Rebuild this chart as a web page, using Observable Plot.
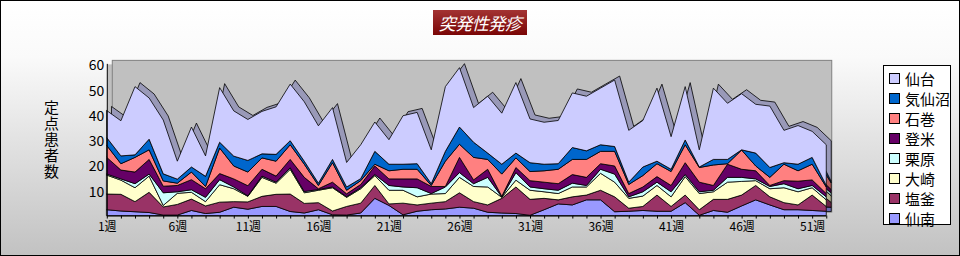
<!DOCTYPE html>
<html><head><meta charset="utf-8">
<script src="https://cdn.jsdelivr.net/npm/d3@7"></script>
<script src="https://cdn.jsdelivr.net/npm/@observablehq/plot@0.6"></script>
<style>
body{margin:0;}
#wrap{position:relative;width:960px;height:256px;box-sizing:border-box;border:1px solid #000;
  background:linear-gradient(#ffffff 0%,#fafafa 22%,#c2c2c2 100%);overflow:hidden;
  font-family:"Noto Sans CJK JP","Noto Sans",sans-serif;}
#chart{position:absolute;left:-1px;top:-1px;}
#chart svg{background:transparent;}
#title{position:absolute;left:432px;top:9px;width:94px;height:25px;
  background:linear-gradient(#a33333,#7a0606);color:#fff;font-size:17px;font-style:italic;
  line-height:25px;text-align:center;letter-spacing:-0.5px;}
#ylab{position:absolute;left:40px;top:99px;writing-mode:vertical-rl;text-orientation:upright;
  font-family:"Noto Sans CJK JP";font-size:15px;line-height:20px;letter-spacing:1px;color:#000;}
#legend{position:absolute;left:882px;top:64px;width:68px;height:160px;box-sizing:border-box;
  border:1px solid #000;background:#fff;padding-top:2px;}
.li{height:20px;display:flex;align-items:center;font-size:15px;color:#000;}
.sw{width:9px;height:9px;border:1px solid #000;margin-left:5px;margin-right:5px;}
</style></head>
<body><div id="wrap">
<div id="chart"></div>
<div id="title">突発性発疹</div>
<div id="ylab"></div>
<div id="legend"></div>
</div>
<script>
const yLabel = "定点患者数";
const weeks = [1,2,3,4,5,6,7,8,9,10,11,12,13,14,15,16,17,18,19,20,21,22,23,24,25,26,27,28,29,30,31,32,33,34,35,36,37,38,39,40,41,42,43,44,45,46,47,48,49,50,51,52];
const xTicks = [1,6,11,16,21,26,31,36,41,46,51];
const yTicks = [10,20,30,40,50,60];
// stack order bottom -> top
const regions = ["仙南","塩釜","大崎","栗原","登米","石巻","気仙沼","仙台"];
const legendOrder = ["仙台","気仙沼","石巻","登米","栗原","大崎","塩釜","仙南"];
const colors = {"仙台":"#ccccff","気仙沼":"#0066cc","石巻":"#ff8080","登米":"#660066","栗原":"#ccffff","大崎":"#ffffcc","塩釜":"#993366","仙南":"#9999ff"};
const shades = {"仙台":"#9999b8","気仙沼":"#00478f","石巻":"#b35a5a","登米":"#470047","栗原":"#8fb3b3","大崎":"#b3b38f","塩釜":"#6b2447","仙南":"#6b6bb3"};

const senan     = [2.3,1.8,1.5,1.2,0.2,0.2,2.0,0.8,1.3,3.3, 2.5,3.6,3.6,1.6,1.0,2.3,0.3,0.2,1.0,6.8, 4.0,0.3,1.7,2.3,2.6,3.3,2.9,1.3,1.0,0.8, 0.1,2.3,4.6,4.2,6.2,6.2,1.5,1.7,2.0,1.7, 1.7,5.1,0.1,2.0,1.3,3.8,6.2,4.2,2.3,2.3, 2.0,1.7];
const shiogama  = [6.2,6.6,4.0,8.0,3.2,4.2,4.5,3.0,4.0,2.2, 2.9,4.0,4.8,6.9,3.8,2.8,1.5,3.4,3.9,5.1, 0.6,4.6,2.5,2.6,2.9,5.7,2.6,2.9,5.8,10.5, 6.3,4.5,1.6,3.2,1.9,3.8,5.9,1.2,1.6,6.4, 1.9,3.0,2.2,4.4,5.1,4.3,5.7,3.2,2.8,1.9, 6.1,1.9];
const osaki     = [7.5,5.6,5.5,6.4,0.6,4.4,2.7,1.7,6.9,5.1, 2.2,7.5,4.4,9.8,4.2,4.9,9.2,3.6,5.7,3.9, 5.4,5.1,3.2,3.6,3.2,6.1,6.0,7.1,0.4,2.7, 3.6,2.6,2.5,3.9,3.2,6.7,5.8,3.9,4.1,3.8, 3.8,7.3,6.4,3.0,6.8,5.4,1.9,3.2,5.9,5.2, 2.9,2.6];
const kurihara  = [0.4,0.5,1.6,0.8,5.0,0.6,1.0,1.7,2.0,0.7, 0.2,0.5,0.4,0.6,0.5,0.3,0.3,0.3,0.4,0.4, 1.9,1.3,3.6,0.2,2.6,1.9,1.1,3.8,0.2,3.0, 1.3,1.2,1.3,1.5,0.6,1.6,3.2,0.6,1.7,1.3, 2.0,0.8,0.7,0.6,1.9,1.6,0.7,0.9,1.6,1.2, 0.9,1.2];
const tome      = [6.6,3.5,4.6,5.8,2.6,2.5,4.0,3.4,2.4,3.2, 4.0,2.7,2.4,3.3,5.6,0.3,1.9,1.1,1.3,3.4, 2.6,3.2,3.5,2.8,0.2,6.0,1.5,3.2,0.2,2.0, 2.5,2.6,2.6,3.4,3.2,2.2,3.2,1.3,1.9,2.2, 2.5,4.7,3.8,1.9,5.2,3.2,3.2,0.4,1.2,3.0, 2.2,1.3];
const ishinomaki= [4.7,2.5,5.8,3.8,2.1,0.9,3.0,0.9,10.1,5.1, 5.4,4.5,5.9,5.8,5.2,1.3,7.7,1.4,1.5,0.7, 3.2,3.8,3.8,0.4,10.0,5.2,8.9,3.9,8.8,3.8, 3.6,4.5,5.7,6.0,7.1,4.9,5.8,3.6,4.5,5.1, 5.5,7.1,5.8,8.1,0.2,7.6,1.9,3.2,6.5,4.1, 6.2,2.6];
const kesennuma = [3.1,3.1,1.0,4.2,2.8,1.6,2.0,4.0,2.3,3.9, 4.6,1.6,2.7,1.6,1.2,0.9,1.3,1.3,0.8,5.1, 2.6,2.0,2.2,0.7,3.9,6.8,6.0,2.5,3.9,1.9, 3.5,2.6,2.2,4.7,3.4,2.6,1.9,0.9,3.4,1.0, 0.9,1.9,0.2,2.2,1.7,0.1,5.1,3.9,0.6,2.6, 2.7,0.6];
const sendai    = [10.7,13.9,27.0,16.3,21.3,7.1,15.8,8.1,21.6,17.9, 16.2,16.8,18.8,22.4,23.5,22.7,20.5,9.7,13.4,11.6, 9.7,19.2,20.3,13.4,25.6,23.5,13.7,22.5,20.2,27.9, 17.3,16.6,17.1,21.6,21.6,22.4,26.3,20.5,18.4,28.9, 12.9,21.1,6.8,28.2,22.2,22.2,19.3,24.3,12.8,15.3, 10.3,16.1];

const series = {"仙南":senan,"塩釜":shiogama,"大崎":osaki,"栗原":kurihara,"登米":tome,"石巻":ishinomaki,"気仙沼":kesennuma,"仙台":sendai};
const data = [];
regions.forEach(r => weeks.forEach((w, j) => data.push({week: w, region: r, value: series[r][j]})));

const font = '"Noto Sans CJK JP","Noto Sans",sans-serif';
const chart = Plot.plot({
  width: 961, height: 257,
  marginLeft: 107, marginRight: 133, marginTop: 64, marginBottom: 41,
  style: {fontFamily: font, color: "#000", background: "transparent", overflow: "visible"},
  x: {domain: [1, 52]},
  y: {domain: [0, 60]},
  marks: [
    Plot.frame({fill: "#c0c0c0", stroke: "none"}),
    Plot.frame({fill: "#c0c0c0", stroke: "#808080", dx: 5, dy: -4}),
    Plot.areaY(data, {x: "week", y: "value", z: "region", order: regions,
      fill: d => shades[d.region], stroke: "#000", strokeWidth: 0.8, dx: 5, dy: -4, curve: "linear"}),
    Plot.areaY(data, {x: "week", y: "value", z: "region", order: regions,
      fill: d => colors[d.region], stroke: "#000", strokeWidth: 0.8, curve: "linear"}),
    Plot.ruleY([0], {stroke: "#000"}),
    Plot.ruleX([1], {stroke: "#000"}),
    Plot.axisY({ticks: yTicks, tickSize: 0, tickPadding: 3, fontSize: 14, label: null, dy: 1.5}),
    Plot.axisX({ticks: weeks, tickSize: 3, tickFormat: () => "", label: null}),
    Plot.axisX({ticks: xTicks, tickSize: 0, tickPadding: 6, fontSize: 12, tickFormat: d => d + "週", label: null})
  ]
});
document.getElementById("chart").appendChild(chart);

document.getElementById("ylab").textContent = yLabel;

const lg = document.getElementById("legend");
legendOrder.forEach(r => {
  const row = document.createElement("div");
  row.className = "li";
  row.innerHTML = `<span class="sw" style="background:${colors[r]}"></span><span>${r}</span>`;
  lg.appendChild(row);
});
</script>
</body></html>
